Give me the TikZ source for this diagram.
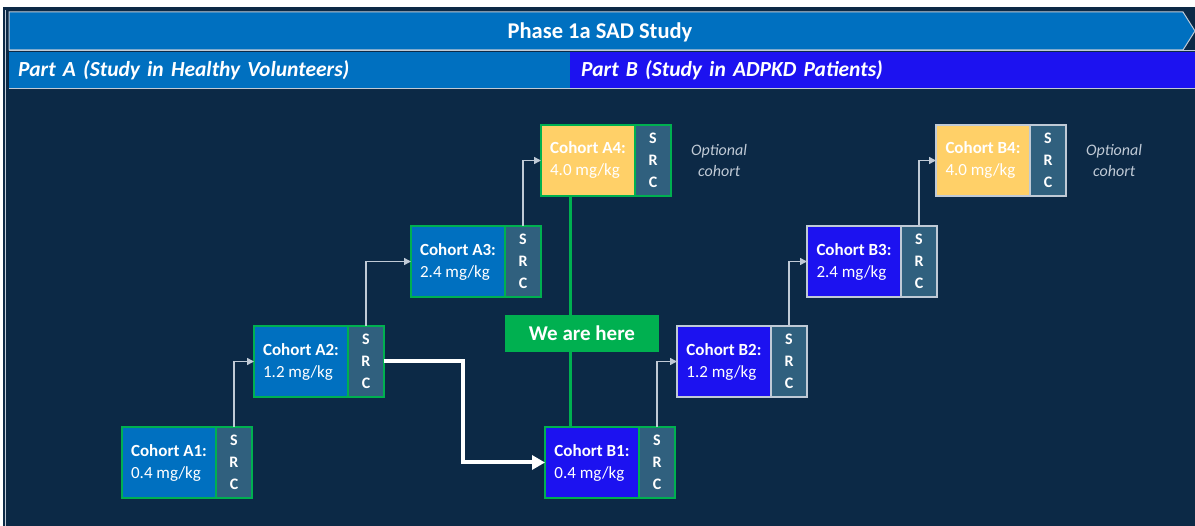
\documentclass[tikz,border=0pt]{standalone}
\usepackage{fontspec}
\setmainfont{Carlito}
\usetikzlibrary{arrows.meta,positioning}

\definecolor{navy}{RGB}{12,41,70}
\definecolor{hdrblue}{RGB}{0,112,192}
\definecolor{ptblue}{RGB}{28,18,240}
\definecolor{srcgrey}{RGB}{48,96,126}
\definecolor{gold}{RGB}{255,208,104}
\definecolor{grn}{RGB}{0,176,80}
\definecolor{rim}{RGB}{192,202,214}

\begin{document}
\begin{tikzpicture}[x=1pt,y=-1pt,>={Triangle[length=7pt,width=7pt]},
  cohortA/.style={draw=grn,line width=1.3pt,fill=hdrblue,text=white,minimum width=94pt,minimum height=71pt,inner sep=0pt,outer sep=0pt,align=left,font=\fontsize{17}{22}\selectfont,anchor=north west},
  cohortB/.style={cohortA,draw=rim,fill=ptblue},
  srcA/.style={draw=grn,line width=1.3pt,fill=srcgrey,text=white,minimum width=36pt,minimum height=71pt,inner sep=0pt,outer sep=0pt,align=center,font=\fontsize{16}{22}\selectfont\bfseries},
  srcB/.style={srcA,draw=rim},
  conn/.style={->,draw=rim,line width=1.5pt},
  optional/.style={text=rim,font=\fontsize{16}{21}\selectfont\itshape,align=center,inner sep=0pt},
  part/.style={anchor=north west,minimum height=36pt,inner ysep=0pt,text=white,align=left,font=\fontsize{21.5}{21.5}\selectfont\bfseries\itshape}]

\useasboundingbox (0,0) rectangle (1195,526);
\fill[white] (0,0) rectangle (1195,526);
\fill[navy] (3,7) rectangle (1195,526);
\draw[rim,line width=1pt] (5.5,10) -- (5.5,526);

% banner
\filldraw[fill=hdrblue,draw=rim,line width=1pt] (9,12) -- (1183,12) -- (1195,31) -- (1183,50) -- (9,50) -- cycle;
\node[text=white,font=\fontsize{22.5}{22.5}\selectfont\bfseries] (title) at (600,32) {Phase 1a SAD Study};
\node[part,fill=hdrblue,text width=543pt,inner xsep=9pt] (partA) at (9,52) {Part A (Study in Healthy Volunteers)};
\node[part,fill=ptblue,text width=603pt,inner xsep=11pt] (partB) at (570,52) {Part B (Study in ADPKD Patients)};
\draw[rim,line width=1pt] (9,51) -- (1195,51) (9,89) -- (1195,89);

% part A cohorts
\node[cohortA] (a1) at (122,427) {\textbf{Cohort A1:}\\0.4 mg/kg};
\node[srcA,right=0pt of a1] (a1s) {S\\R\\C};
\node[cohortA] (a2) at (254,326) {\textbf{Cohort A2:}\\1.2 mg/kg};
\node[srcA,right=0pt of a2] (a2s) {S\\R\\C};
\node[cohortA] (a3) at (411,226) {\textbf{Cohort A3:}\\2.4 mg/kg};
\node[srcA,right=0pt of a3] (a3s) {S\\R\\C};
\node[cohortA,fill=gold] (a4) at (541,125) {\textbf{Cohort A4:}\\4.0 mg/kg};
\node[srcA,right=0pt of a4] (a4s) {S\\R\\C};
\node[optional,right=20pt of a4s] (a4opt) {Optional\\cohort};

% part B cohorts
\node[cohortB,draw=grn] (b1) at (545,427) {\textbf{Cohort B1:}\\0.4 mg/kg};
\node[srcA,right=0pt of b1] (b1s) {S\\R\\C};
\node[cohortB] (b2) at (677,326) {\textbf{Cohort B2:}\\1.2 mg/kg};
\node[srcB,right=0pt of b2] (b2s) {S\\R\\C};
\node[cohortB] (b3) at (807,226) {\textbf{Cohort B3:}\\2.4 mg/kg};
\node[srcB,right=0pt of b3] (b3s) {S\\R\\C};
\node[cohortB,fill=gold] (b4) at (936,125) {\textbf{Cohort B4:}\\4.0 mg/kg};
\node[srcB,right=0pt of b4] (b4s) {S\\R\\C};
\node[optional,right=20pt of b4s] (b4opt) {Optional\\cohort};

% escalation steps
\draw[conn] (a1s.north) |- (a2.west);
\draw[conn] (a2s.north) |- (a3.west);
\draw[conn] (a3s.north) |- (a4.west);
\draw[conn] (b1s.north) |- (b2.west);
\draw[conn] (b2s.north) |- (b3.west);
\draw[conn] (b3s.north) |- (b4.west);
\draw[-{Triangle[length=13pt,width=14pt]},white,line width=4pt] (a2s.east) -- ++(79,0) |- (b1.west);

% current position
\path (a4.south west) ++(29,0) coordinate (gtop);
\draw[grn,line width=3pt] (gtop) -- (gtop |- b1.north);
\node[fill=grn,text=white,font=\fontsize{21}{21}\selectfont\bfseries,minimum width=154pt,minimum height=37pt,inner sep=0pt] (here) at (582,333.5) {We are here};
\end{tikzpicture}
\end{document}
